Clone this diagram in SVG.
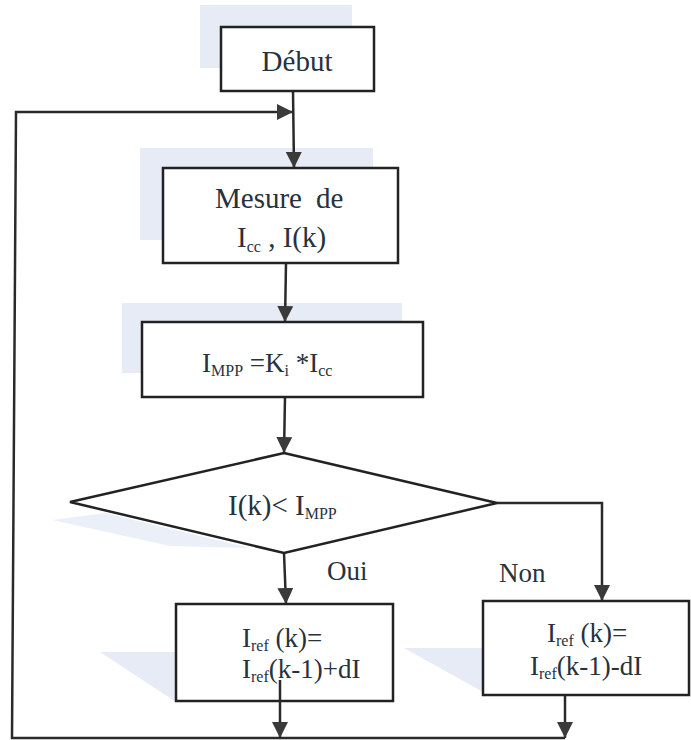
<svg xmlns="http://www.w3.org/2000/svg" width="691" height="740" viewBox="0 0 691 740">
<style>
.box{fill:#fff;stroke:#222;stroke-width:2.5}
.shadow{fill:#e6ebf6;stroke:none}
.ln{fill:none;stroke:#2a2a2a;stroke-width:2.5}
.t{font-family:'Liberation Serif','DejaVu Serif',serif;fill:#27323c;font-size:27px}
.b{font-size:29px}
.s{font-size:16px}
</style>
<defs>
<marker id="arr" markerUnits="userSpaceOnUse" markerWidth="16" markerHeight="16" viewBox="0 0 16 16" refX="16" refY="8" orient="auto">
<path d="M0,0 L16,8 L0,16 z" fill="#3a3a3a"/>
</marker>
</defs>
<rect width="691" height="740" fill="#fff"/>
<g id="shadows">
<rect class="shadow" x="200" y="5" width="152" height="63"/>
<rect class="shadow" x="140" y="148" width="233" height="92"/>
<rect class="shadow" x="122" y="303" width="280" height="70"/>
<polygon class="shadow" points="52,520 105,513 250,548 170,546" opacity="0.8"/>
<polygon class="shadow" points="100,652 176,652 176,702"/>
<polygon class="shadow" points="404,648 483,648 483,692"/>
</g>
<g id="connectors">
<line class="ln" x1="293" y1="91" x2="294" y2="168" marker-end="url(#arr)"/>
<polyline class="ln" points="565,738 12,738 16,112 293,112" marker-end="url(#arr)"/>
<line class="ln" x1="286" y1="263" x2="285" y2="322" marker-end="url(#arr)"/>
<line class="ln" x1="285" y1="397" x2="284" y2="453" marker-end="url(#arr)"/>
<line class="ln" x1="284" y1="553" x2="286" y2="604" marker-end="url(#arr)"/>
<polyline class="ln" points="497,503 602,503 602,601" marker-end="url(#arr)"/>
<line class="ln" x1="565" y1="695" x2="565" y2="738" marker-end="url(#arr)"/>
</g>
<g id="debut">
<rect class="box" x="221" y="27" width="153" height="64"/>
<text class="t b" x="297" y="71" text-anchor="middle">Début</text>
</g>
<g id="mesure">
<rect class="box" x="163" y="168" width="235" height="95"/>
<text class="t b" x="215" y="208">Mesure<tspan x="316">de</tspan></text>
<text class="t b" x="237" y="247">I<tspan class="s" dy="5">cc</tspan><tspan dy="-5"> , I(k)</tspan></text>
</g>
<g id="impp">
<rect class="box" x="142" y="322" width="281" height="75"/>
<text class="t" x="202" y="372">I<tspan class="s" dy="4">MPP</tspan><tspan dy="-4"> =K</tspan><tspan class="s" dy="4">i</tspan><tspan dy="-4"> *I</tspan><tspan class="s" dy="4">cc</tspan></text>
</g>
<g id="decision">
<polygon class="box" points="284,453 497,503 284,553 70,502"/>
<text class="t b" x="228" y="515">I(k)&lt; I<tspan class="s" dy="4">MPP</tspan></text>
</g>
<g id="oui">
<rect class="box" x="176" y="604" width="217" height="97"/>
<text class="t" x="242" y="647">I<tspan class="s" dy="4">ref</tspan><tspan dy="-4"> (k)=</tspan></text>
<text class="t" x="242" y="678">I<tspan class="s" dy="4">ref</tspan><tspan dy="-4">(k-1)+dI</tspan></text>
<line class="ln" x1="280" y1="680" x2="280" y2="738" marker-end="url(#arr)"/>
</g>
<g id="non">
<rect class="box" x="483" y="601" width="206" height="94"/>
<text class="t" x="547" y="642">I<tspan class="s" dy="4">ref</tspan><tspan dy="-4"> (k)=</tspan></text>
<text class="t" x="530" y="675">I<tspan class="s" dy="4">ref</tspan><tspan dy="-4">(k-1)-dI</tspan></text>
</g>
<g id="labels">
<text class="t" x="327" y="580">Oui</text>
<text class="t" x="499" y="582">Non</text>
</g>
</svg>
